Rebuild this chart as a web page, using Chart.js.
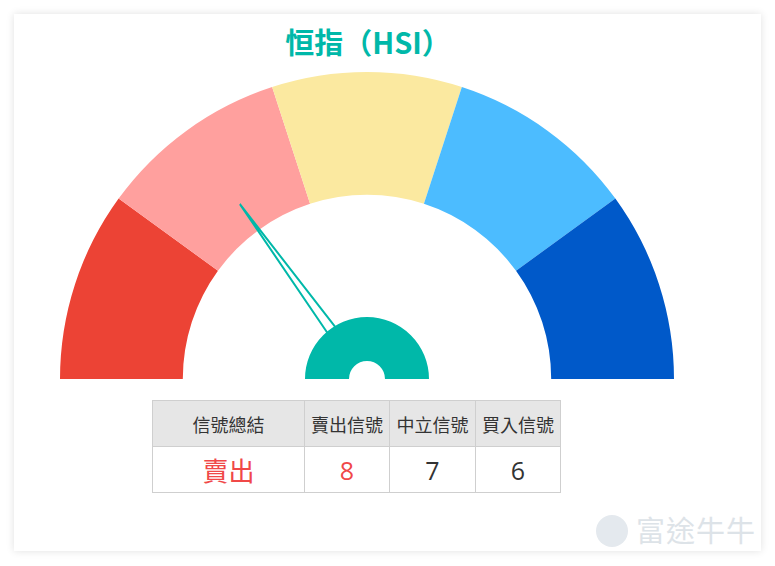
<!DOCTYPE html>
<html>
<head>
<meta charset="utf-8">
<script src="https://cdn.jsdelivr.net/npm/chart.js@4"></script>
<style>
  body { margin: 0; background: #fff; font-family: "Noto Sans CJK TC", "Noto Sans", sans-serif; }
  #card { position: absolute; left: 14px; top: 14px; width: 747px; height: 537px; background: #fff;
          box-shadow: 0 0 8px rgba(0,0,0,0.12); }
  #title { position: absolute; left: 0; top: 6px; width: 708px; text-align: center; color: #00B8A9;
           font-size: 29px; font-weight: bold; }
  #wrap { position: absolute; left: 46px; top: 58px; width: 614px; height: 307px; }
  table { position: absolute; left: 138px; top: 386px; border-collapse: collapse; table-layout: fixed; width: 406px; }
  td { border: 1px solid #cfcfcf; text-align: center; color: #333; padding: 0; }
  tr.head td { background: #e6e6e6; height: 45px; font-size: 18px; white-space: nowrap; }
  tr.body td { height: 45px; font-size: 25px; font-family: "Open Sans", "Noto Sans CJK TC", sans-serif; }
  #mark { position: absolute; left: 582px; top: 494px; color: #dde3e8; font-size: 29px; letter-spacing: 1px; white-space: nowrap; }
  #mark span.logo { display: inline-block; width: 32px; height: 32px; border-radius: 50%; background: #e4e9ee;
                    vertical-align: -5px; margin-right: 8px; }
</style>
</head>
<body>
<div id="card">
  <div id="title">恒指（HSI）</div>
  <div id="wrap"><canvas id="gauge"></canvas></div>
  <table id="sig"></table>
  <div id="mark"><span class="logo"></span>富途牛牛</div>
</div>
<script>
// gauge bands (equal width), from 強烈賣出 to 強烈買入
const bands = [1, 1, 1, 1, 1];
const bandColors = ['#EC4335', '#FFA09E', '#FBE9A0', '#4CBCFF', '#0059C9'];
const needleValue = 0.3; // 0 = far left, 1 = far right

const headers = ['信號總結', '賣出信號', '中立信號', '買入信號'];
const summary = '賣出';
const counts = [8, 7, 6];

// table
var table = document.getElementById('sig');
var headRow = table.insertRow();
headRow.className = 'head';
var widths = [151, 84, 85, 84];
headers.forEach(function (h, i) {
    var c = headRow.insertCell();
    c.innerHTML = h;
    c.style.width = widths[i] + 'px';
});
var bodyRow = table.insertRow();
bodyRow.className = 'body';
var c0 = bodyRow.insertCell();
c0.innerHTML = summary;
c0.style.color = '#F04848';
c0.style.fontFamily = '"Noto Sans CJK TC", sans-serif';
c0.style.fontSize = '26px';
counts.forEach(function (v, i) {
    var c = bodyRow.insertCell();
    c.innerHTML = v;
    if (i === 0) c.style.color = '#F04848';
});

// needle + hub on top of the doughnut
const needlePlugin = {
    id: 'needle',
    afterDatasetsDraw: function (chart) {
        var arc = chart.getDatasetMeta(0).data[0];
        var cx = arc.x, cy = arc.y;
        var ctx = chart.ctx;
        var ang = Math.PI + needleValue * Math.PI;
        var len = arc.innerRadius + 32;
        var hubR = 62;
        var tipX = cx + Math.cos(ang) * len, tipY = cy + Math.sin(ang) * len;
        var baseX = cx + Math.cos(ang) * (hubR - 4), baseY = cy + Math.sin(ang) * (hubR - 4);
        var perp = ang + Math.PI / 2;
        var half = 5;
        ctx.save();
        ctx.beginPath();
        ctx.moveTo(baseX + Math.cos(perp) * half, baseY + Math.sin(perp) * half);
        ctx.lineTo(tipX, tipY);
        ctx.lineTo(baseX - Math.cos(perp) * half, baseY - Math.sin(perp) * half);
        ctx.fillStyle = '#fff';
        ctx.fill();
        ctx.lineWidth = 2;
        ctx.strokeStyle = '#00B8A9';
        ctx.stroke();
        // hub
        ctx.beginPath();
        ctx.arc(cx, cy, hubR, Math.PI, 2 * Math.PI);
        ctx.arc(cx, cy, 18, 2 * Math.PI, Math.PI, true);
        ctx.closePath();
        ctx.fillStyle = '#00B8A9';
        ctx.fill();
        ctx.restore();
    }
};

new Chart(document.getElementById('gauge'), {
    type: 'doughnut',
    data: {
        labels: ['強烈賣出', '賣出', '中立', '買入', '強烈買入'],
        datasets: [{
            data: bands,
            backgroundColor: bandColors,
            borderWidth: 0
        }]
    },
    options: {
        responsive: true,
        maintainAspectRatio: false,
        animation: false,
        rotation: -90,
        circumference: 180,
        cutout: '60%',
        plugins: { legend: { display: false }, tooltip: { enabled: false } }
    },
    plugins: [needlePlugin]
});
</script>
</body>
</html>
